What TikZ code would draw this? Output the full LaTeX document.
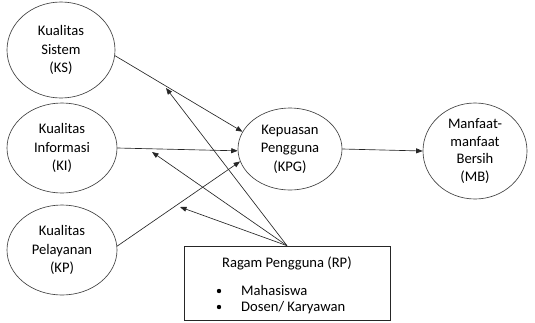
\documentclass[tikz,border=0pt]{standalone}
\usepackage{fontspec}
\setmainfont{Carlito}
\usetikzlibrary{shapes.geometric,arrows.meta}
\begin{document}
\begin{tikzpicture}[x=1pt,y=-1pt,
  construct/.style={ellipse, draw=black!75, line width=0.65pt, inner sep=0pt,
    align=center, font=\fontsize{14.6}{18.5}\selectfont, text=black},
  link/.style={draw=black!85, line width=0.65pt, -{Triangle[length=6.5pt,width=5pt]}},
  itemtext/.style={anchor=base west, inner sep=0pt, font=\fontsize{14.6}{18}\selectfont, text=black}]
\useasboundingbox (0,0) rectangle (535,322);

% constructs
\node[construct, minimum width=108pt, minimum height=96pt] (KS) at (61,50) {Kualitas\\Sistem\\(KS)};
\node[construct, minimum width=110pt, minimum height=90pt] (KI) at (62,148) {Kualitas\\Informasi\\(KI)};
\node[construct, minimum width=110pt, minimum height=90pt] (KP) at (62,250) {Kualitas\\Pelayanan\\(KP)};
\node[construct, minimum width=104pt, minimum height=82pt] (KPG) at (290,149) {Kepuasan\\Pengguna\\(KPG)};
\node[construct, minimum width=104pt, minimum height=96pt, font=\fontsize{14.6}{17.5}\selectfont] (MB) at (475,151) {Manfaat-\\manfaat\\Bersih\\(MB)};

% moderator box
\node[draw=black!85, line width=0.65pt, minimum width=206pt, minimum height=74pt, inner sep=0pt] (RP) at (287,283) {};
\node[itemtext] (RPt) at (222,267) {Ragam Pengguna (RP)};
\fill[black] (219,291) circle (2.2pt);
\node[itemtext] (RP1) at (241,295) {Mahasiswa};
\fill[black] (219,307) circle (2.2pt);
\node[itemtext] (RP2) at (241,311) {Dosen/ Karyawan};

% direct paths
\draw[link] (KS.-6) -- (KPG.160);
\draw[link] (KI.0) -- (KPG.182);
\draw[link] (KP.4) -- (KPG.194);
\draw[link] (KPG.east) -- (MB.west);

% moderating effects
\coordinate (mKS) at (166,88);
\coordinate (mKI) at (152,152);
\coordinate (mKP) at (180,207);
\draw[link] (RP.north) -- (mKS);
\draw[link] (RP.north) -- (mKI);
\draw[link] (RP.north) -- (mKP);
\end{tikzpicture}
\end{document}
